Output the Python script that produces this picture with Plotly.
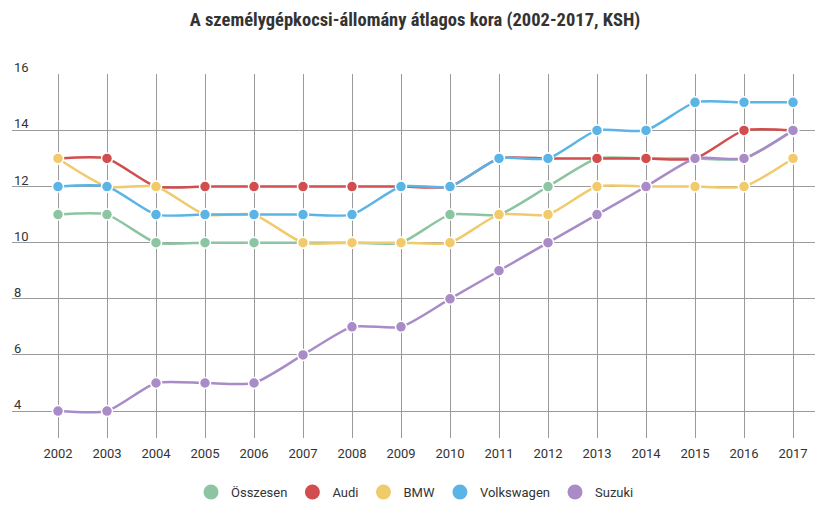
import plotly.graph_objects as go

years = list(range(2002, 2018))
osszesen = [11, 11, 10, 10, 10, 10, 10, 10, 11, 11, 12, 13, 13, 13, 13, 14]
audi = [13, 13, 12, 12, 12, 12, 12, 12, 12, 13, 13, 13, 13, 13, 14, 14]
bmw = [13, 12, 12, 11, 11, 10, 10, 10, 10, 11, 11, 12, 12, 12, 12, 13]
volkswagen = [12, 12, 11, 11, 11, 11, 11, 12, 12, 13, 13, 14, 14, 15, 15, 15]
suzuki = [4, 4, 5, 5, 5, 6, 7, 7, 8, 9, 10, 11, 12, 13, 13, 14]
y_ticks = [4, 6, 8, 10, 12, 14, 16]

series = [
    ("Összesen", osszesen, "#8dc4a2"),
    ("Audi", audi, "#d24d4d"),
    ("BMW", bmw, "#f0ca6b"),
    ("Volkswagen", volkswagen, "#5ab4e5"),
    ("Suzuki", suzuki, "#a88bc7"),
]

# page body has an 8px margin; layout is shifted to compensate
W, H = 830, 513
OFF = 8
plot_left, plot_right, plot_top, plot_bottom = 12 - OFF, 815 - OFF, 74 - OFF, 438 - OFF
plot_h = plot_bottom - plot_top

fig = go.Figure()
for name, vals, col in series:
    fig.add_trace(go.Scatter(
        x=years, y=vals, name=name, mode="lines+markers",
        line=dict(color=col, width=2.5, shape="spline", smoothing=0.6),
        marker=dict(size=11, color=col, line=dict(color="white", width=1.5)),
        showlegend=False,
    ))
for name, vals, col in series:
    fig.add_trace(go.Scatter(
        x=[None], y=[None], name=name, mode="markers",
        marker=dict(size=15, color=col), showlegend=True,
    ))

for t in y_ticks:
    fig.add_annotation(
        x=0, xref="paper", xanchor="left", y=t, yref="y", yanchor="bottom",
        yshift=-3, text=str(t), showarrow=False,
        font=dict(size=13, color="#333333"),
    )

fig.update_layout(
    width=W, height=H,
    margin=dict(l=plot_left, r=W - plot_right, t=plot_top, b=H - plot_bottom),
    paper_bgcolor="white", plot_bgcolor="white",
    font=dict(family="Roboto, Arial, sans-serif", color="#333333", size=13),
    title=dict(
        text="<b>A személygépkocsi-állomány átlagos kora (2002-2017, KSH)</b>",
        x=(415 - OFF) / W, xanchor="center", y=1 - (20 - OFF) / H, yanchor="middle",
        font=dict(family="Roboto Condensed, Liberation Sans Narrow, Roboto, sans-serif", size=18.5, color="#333333"),
    ),
    xaxis=dict(
        range=[2002 - 46 / 49, 2017 + 22 / 49],
        tickmode="array", tickvals=years, ticktext=[str(y) for y in years],
        showgrid=True, gridcolor="#9a9a9a", gridwidth=1,
        zeroline=False, showline=False, ticks="",
        ticklabelstandoff=6,
        tickfont=dict(size=13, color="#333333"),
        fixedrange=True, automargin=False,
    ),
    yaxis=dict(
        range=[3.04, 16.01],
        tickmode="array", tickvals=y_ticks,
        showgrid=True, gridcolor="#9a9a9a", gridwidth=1,
        zeroline=False, showline=False, ticks="",
        showticklabels=False,
        fixedrange=True, automargin=False,
    ),
    legend=dict(
        orientation="h", x=(415 - OFF - plot_left) / (plot_right - plot_left), xanchor="center",
        y=-(492 - 438) / plot_h, yanchor="middle",
        font=dict(size=13, color="#333333"), itemsizing="trace",
    ),
)

fig.write_html("out.html")
